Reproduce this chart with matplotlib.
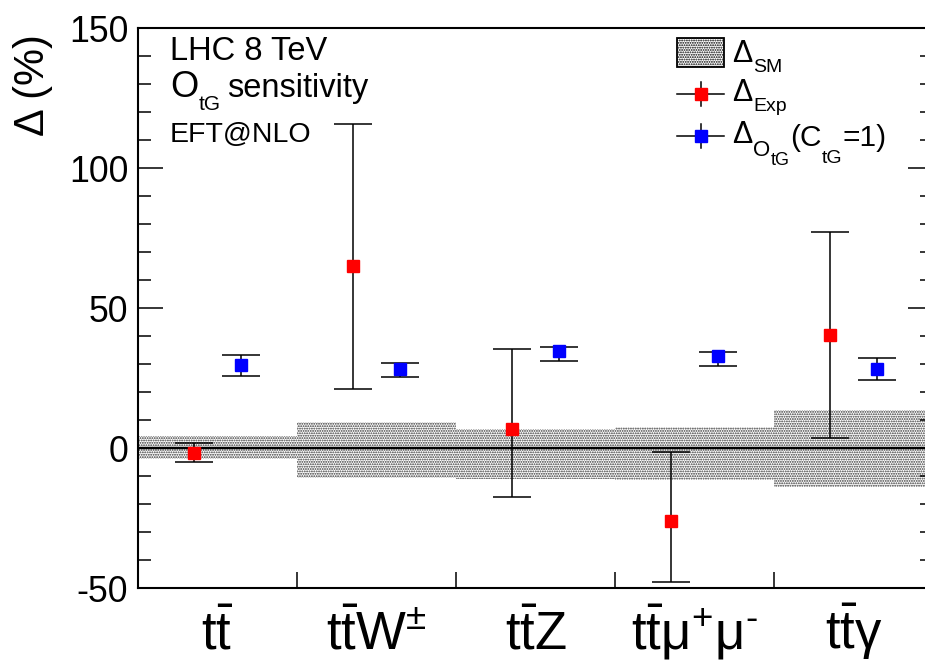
import matplotlib
matplotlib.use("Agg")
import matplotlib.pyplot as plt
from matplotlib import font_manager
from matplotlib.patches import Rectangle
from matplotlib.lines import Line2D
import matplotlib.transforms as mtransforms
import numpy as np

# ---------------- data ----------------
categories = [r"t\bar{t}", r"t\bar{t}W^{\pm}", r"t\bar{t}Z", r"t\bar{t}\mu^{+}\mu^{\text{-}}", r"t\bar{t}\gamma"]
sm_up = [4.3, 9.2, 6.7, 7.6, 13.6]
sm_down = [-3.9, -10.6, -11.1, -11.5, -13.9]
exp_val = [-1.9, 65.0, 6.8, -26.0, 40.4]
exp_err_up = [3.8, 50.7, 28.6, 24.5, 36.6]
exp_err_down = [3.2, 43.9, 24.2, 21.9, 36.8]
otg_val = [29.6, 28.2, 34.6, 32.7, 28.2]
otg_err_up = [3.6, 2.3, 1.5, 1.7, 3.8]
otg_err_down = [3.8, 2.8, 3.5, 3.3, 3.8]
y_ticks = [-50, 0, 50, 100, 150]

# ---------------- fonts ----------------
names = {f.name for f in font_manager.fontManager.ttflist}
BASE = "Liberation Sans"
NARROW = "Liberation Sans Narrow" if "Liberation Sans Narrow" in names else BASE
plt.rcParams["font.family"] = [BASE, "DejaVu Sans"]
plt.rcParams["axes.unicode_minus"] = False
plt.rcParams["mathtext.fontset"] = "custom"
plt.rcParams["mathtext.rm"] = NARROW
plt.rcParams["mathtext.it"] = NARROW
plt.rcParams["mathtext.bf"] = NARROW
plt.rcParams["mathtext.sf"] = NARROW
plt.rcParams["hatch.linewidth"] = 0.9

W, H = 925, 661
fig = plt.figure(figsize=(W / 100, H / 100), dpi=100)
ax = fig.add_axes([138 / W, 73 / H, 795 / W, 560 / H])

n = len(categories)
centers = np.arange(n) + 0.5
x_exp = np.arange(n) + 0.35
x_otg = np.arange(n) + 0.65

HATCH = "......."
sm_up_a = np.array(sm_up)
sm_down_a = np.array(sm_down)
ax.bar(centers, sm_up_a - sm_down_a, bottom=sm_down_a, width=1.0,
       facecolor="none", edgecolor="#333333", hatch=HATCH, linewidth=0, zorder=1)
ax.axhline(0, color="black", lw=1.7, zorder=2)

ms = 8.9
ax.errorbar(x_exp, exp_val, yerr=[exp_err_down, exp_err_up], fmt="s",
            color="red", mec="red", mfc="red", ms=ms, ecolor="black",
            elinewidth=1.1, capsize=14, capthick=1.1, zorder=3)
ax.errorbar(x_otg, otg_val, yerr=[otg_err_down, otg_err_up], fmt="s",
            color="blue", mec="blue", mfc="blue", ms=ms, ecolor="black",
            elinewidth=1.1, capsize=14, capthick=1.1, zorder=3)

ax.set_xlim(0, n)
ax.set_ylim(-50, 150)
ax.set_xticks(np.arange(1, n))
ax.set_xticklabels([])
ax.tick_params(axis="x", which="both", direction="in", length=11.5, width=1.1,
               top=False, bottom=True)
ax.set_yticks(y_ticks)
ax.set_yticks(np.arange(-50, 151, 10), minor=True)
ax.tick_params(axis="y", which="major", direction="in", length=18, width=1.1,
               left=True, right=True, labelsize=25.7, pad=7)
ax.tick_params(axis="y", which="minor", direction="in", length=9.4, width=1.1,
               left=True, right=True)
for s in ax.spines.values():
    s.set_linewidth(1.5)

# category labels
trans = mtransforms.blended_transform_factory(ax.transData, fig.transFigure)
for c, lab in zip(centers, categories):
    ax.text(c, 1 - 649 / H, r"$\mathregular{" + lab + "}$", transform=trans,
            ha="center", va="baseline", fontsize=38, clip_on=False)


def P(x, y):
    return (x / W, 1 - y / H)


renderer = fig.canvas.get_renderer()


def ftext(x, y, s, size, **kw):
    t = fig.text(*P(x, y), s, fontsize=size, ha="left", va="baseline", **kw)
    return t.get_window_extent(renderer).x1


def chain(x, pieces):
    for s, y, size, gap in pieces:
        x = ftext(x, y, s, size) + gap
    return x


# y label
fig.text(*P(33, 85), "Δ (%)", fontsize=30, rotation=90, ha="center", va="center")

# top-left text
ftext(170, 60, "LHC 8 TeV", 23.5)
chain(170, [("O", 96.7, 26, 0), ("tG", 110, 15, 7), ("sensitivity", 96.7, 23.5, 0)])
ftext(170, 141.7, "EFT@NLO", 20.5)

# legend
fig.patches.append(Rectangle(P(677, 67), 47 / W, 29 / H, transform=fig.transFigure,
                             facecolor="white", edgecolor="black", hatch=HATCH,
                             linewidth=1.3, zorder=5))
for yc, col in [(94, "red"), (136, "blue")]:
    fig.add_artist(Line2D([677 / W, 724 / W], [1 - yc / H, 1 - yc / H],
                          color="black", lw=1.1, transform=fig.transFigure))
    fig.add_artist(Line2D([701 / W, 701 / W], [1 - (yc - 12) / H, 1 - (yc + 12) / H],
                          color="black", lw=1.1, transform=fig.transFigure))
    fig.add_artist(Line2D([701 / W], [1 - yc / H], marker="s", ms=ms, color=col,
                          mec=col, linestyle="none", transform=fig.transFigure))

chain(732, [("Δ", 62, 22, 1), ("SM", 72, 14, 0)])
chain(732, [("Δ", 101, 22, 1), ("Exp", 110.7, 14, 0)])
chain(732, [("Δ", 143, 22, 1), ("O", 156, 16, 0), ("tG", 165, 13, 1),
            ("(C", 145.5, 21.5, 0), ("tG", 163, 14, 0), ("=1)", 145.5, 21.5, 0)])

fig.savefig("out.png", dpi=100)
